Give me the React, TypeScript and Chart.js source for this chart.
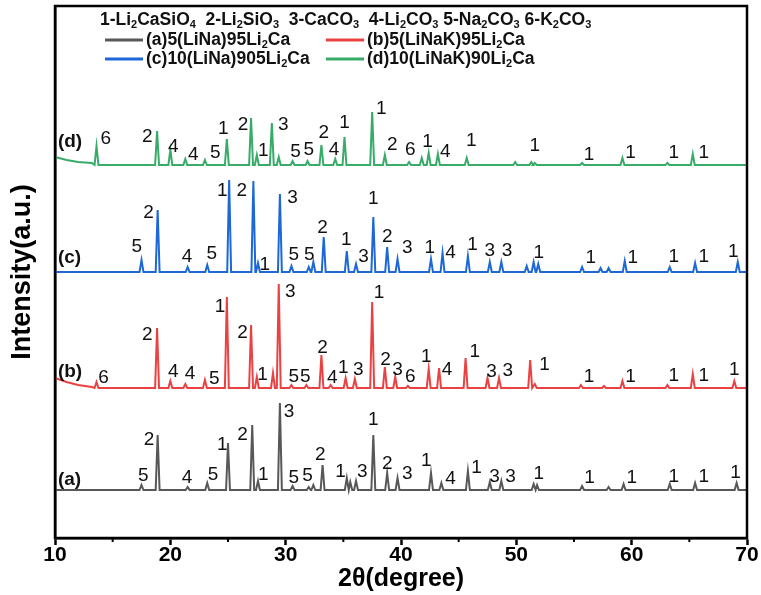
import { useEffect, useRef } from 'react';
import { Chart, registerables } from 'chart.js';

Chart.register(...registerables);

// ---- axis ----
const X_MIN = 10;
const X_MAX = 70;
const X_STEP = 10;
const X_MINOR = [15, 25, 35, 45, 55, 65];
const Y_MIN = 0;
const Y_MAX = 532;

// ---- phase key ("_" marks a subscript character) ----
const phaseKey = '1-Li_2CaSiO_4  2-Li_2SiO_3  3-CaCO_3  4-Li_2CO_3 5-Na_2CO_3 6-K_2CO_3';

const seriesNames = ['(a)5(LiNa)95Li_2Ca', '(b)5(LiNaK)95Li_2Ca', '(c)10(LiNa)905Li_2Ca', '(d)10(LiNaK)90Li_2Ca'];
const seriesTags = ['(a)', '(b)', '(c)', '(d)'];
const seriesColors = ['#585858', '#ea4242', '#1d68d6', '#39ab69'];
const tagY = [58, 166, 280, 396];

// ---- (a) 5(LiNa)95Li2Ca ----
const aBase = 48;
const aLead: number[][] = [];
const aPeakPos = [17.5, 18.9, 21.5, 23.2, 25.0, 27.1, 27.6, 29.5, 30.6, 32.0, 32.4, 33.2, 35.3, 35.6, 36.1, 37.6, 38.8, 39.7, 42.6, 43.5, 45.8, 47.7, 48.7, 51.5, 51.8, 55.7, 58.0, 59.3, 63.3, 65.5, 69.1];
const aPeakTop = [53, 103, 51, 55, 95, 113, 57, 135, 52, 51, 53, 73, 60, 56, 57, 103, 65, 60, 65, 55, 67, 56, 57, 54, 53, 52, 51, 54, 54, 55, 55];
const aLabelText = ['5', '2', '4', '5', '1', '2', '1', '3', '5', '5', '2', '1', '3', '1', '2', '3', '1', '4', '1', '3', '3', '1', '1', '1', '1', '1', '1'];
const aLabelX = [17.65, 18.15, 21.45, 23.7, 24.5, 26.25, 28.05, 30.3, 30.7, 31.9, 33.0, 34.75, 36.65, 37.6, 38.8, 40.55, 42.2, 44.3, 46.55, 48.1, 49.5, 51.95, 56.35, 60.0, 63.65, 66.25, 69.0];
const aLabelY = [62, 98, 60, 63, 93, 103, 63, 126, 60, 62, 83, 66, 66, 118, 74, 64, 77, 59, 70, 61, 61, 64, 60, 60, 61, 61, 65];

// ---- (b) 5(LiNaK)95Li2Ca ----
const bBase = 150;
const bLead = [[10, 160], [11, 156], [12, 153], [13.2, 151]];
const bPeakPos = [13.6, 18.85, 20.0, 21.3, 23.0, 24.9, 27.0, 27.5, 28.9, 29.4, 30.5, 31.8, 33.1, 33.9, 35.2, 36.0, 37.5, 38.6, 39.5, 40.6, 42.4, 43.3, 45.6, 47.5, 48.5, 51.2, 51.6, 55.6, 57.6, 59.2, 63.1, 65.3, 68.9];
const bPeakTop = [156, 210, 157, 154, 158, 241, 213, 161, 165, 254, 153, 153, 183, 153, 160, 159, 236, 171, 161, 152, 169, 170, 180, 160, 160, 178, 154, 153, 152, 157, 153, 164, 157];
const bLabelText = ['6', '2', '4', '4', '5', '1', '2', '1', '3', '5', '5', '2', '4', '1', '3', '1', '2', '3', '6', '1', '4', '1', '3', '3', '1', '1', '1', '1', '1', '1'];
const bLabelX = [14.2, 18.0, 20.25, 21.7, 23.8, 24.3, 26.25, 28.0, 30.4, 30.7, 31.7, 33.2, 34.05, 35.0, 36.3, 38.1, 38.65, 39.7, 40.8, 42.2, 44.0, 46.4, 47.85, 49.25, 52.45, 56.3, 59.9, 63.65, 66.25, 68.9];
const bLabelY = [160, 203, 166, 164, 159, 231, 205, 163, 246, 161, 161, 190, 160, 170, 168, 245, 178, 168, 161, 181, 168, 186, 166, 167, 173, 161, 161, 162, 162, 168];

// ---- (c) 10(LiNa)905Li2Ca ----
const cBase = 266;
const cLead: number[][] = [];
const cPeakPos = [17.5, 18.9, 21.5, 23.2, 25.1, 27.2, 27.6, 29.5, 30.5, 32.0, 32.4, 33.3, 35.3, 36.1, 37.6, 38.8, 39.7, 42.6, 43.6, 45.8, 47.7, 48.7, 50.9, 51.5, 51.9, 55.7, 57.3, 58.0, 59.4, 63.3, 65.5, 69.2];
const cPeakTop = [278, 328, 271, 273, 358, 357, 275, 344, 272, 271, 276, 301, 287, 274, 321, 291, 279, 279, 285, 282, 276, 276, 272, 276, 274, 271, 270, 270, 277, 271, 275, 276];
const cLabelText = ['5', '2', '4', '5', '1', '2', '1', '3', '5', '5', '2', '1', '3', '1', '2', '3', '1', '4', '1', '3', '3', '1', '1', '1', '1', '1', '1'];
const cLabelX = [17.1, 18.1, 21.45, 23.6, 24.5, 26.2, 28.2, 30.6, 30.7, 32.05, 33.2, 35.25, 36.75, 37.6, 38.8, 40.55, 42.5, 44.3, 46.2, 47.7, 49.2, 51.95, 56.45, 60.1, 63.65, 66.25, 68.8];
const cLabelY = [291, 325, 281, 284, 347, 347, 273, 340, 283, 283, 310, 298, 281, 339, 301, 290, 290, 285, 293, 287, 287, 285, 280, 280, 281, 281, 286];

// ---- (d) 10(LiNaK)90Li2Ca ----
const dBase = 373;
const dLead = [[10, 381], [11, 378], [12, 376], [13.2, 375]];
const dPeakPos = [13.6, 18.85, 20.0, 21.3, 23.0, 24.9, 27.0, 27.5, 28.8, 29.4, 30.6, 31.9, 33.1, 34.3, 35.1, 37.5, 38.6, 40.7, 41.8, 42.4, 43.2, 45.7, 49.9, 51.3, 51.6, 55.7, 59.2, 63.1, 65.3];
const dPeakTop = [392, 407, 388, 379, 378, 399, 420, 383, 415, 381, 377, 377, 393, 379, 401, 426, 383, 376, 380, 385, 384, 380, 376, 376, 375, 375, 380, 375, 384];
const dLabelText = ['6', '2', '4', '4', '5', '1', '2', '1', '3', '5', '5', '2', '4', '1', '1', '2', '6', '1', '4', '1', '1', '1', '1', '1', '1'];
const dLabelX = [14.4, 18.0, 20.25, 22.0, 23.9, 24.6, 26.3, 28.05, 29.8, 30.85, 32.0, 33.3, 34.2, 35.1, 38.3, 39.25, 40.8, 42.3, 43.85, 46.1, 51.6, 56.3, 59.9, 63.65, 66.25];
const dLabelY = [399, 401, 391, 383, 385, 409, 413, 387, 413, 386, 388, 405, 388, 415, 429, 393, 388, 396, 386, 397, 392, 383, 385, 385, 385];

const PEAK_HALF_WIDTH = 0.17;

const FONT_SANS = '"Liberation Sans", Arial, sans-serif';

// Assemble a stick-like diffraction profile from baseline and peak lists.
function buildProfile(base: number, lead: number[][], pos: number[], top: number[]) {
  const pts: { x: number; y: number }[] = lead.map(([x, y]) => ({ x, y }));
  if (!lead.length) pts.push({ x: X_MIN, y: base });
  pos.forEach((p, i) => {
    pts.push({ x: p - PEAK_HALF_WIDTH, y: base });
    pts.push({ x: p, y: top[i] });
    pts.push({ x: p + PEAK_HALF_WIDTH, y: base });
  });
  pts.push({ x: X_MAX, y: base });
  return pts;
}

const profiles = [
  buildProfile(aBase, aLead, aPeakPos, aPeakTop),
  buildProfile(bBase, bLead, bPeakPos, bPeakTop),
  buildProfile(cBase, cLead, cPeakPos, cPeakTop),
  buildProfile(dBase, dLead, dPeakPos, dPeakTop),
];

const peakLabels = [
  { text: aLabelText, x: aLabelX, y: aLabelY },
  { text: bLabelText, x: bLabelX, y: bLabelY },
  { text: cLabelText, x: cLabelX, y: cLabelY },
  { text: dLabelText, x: dLabelX, y: dLabelY },
];

// Draws text where "_" turns the following character into a subscript.
function drawRich(ctx: CanvasRenderingContext2D, text: string, x: number, y: number, size: number, weight: string, family: string) {
  let cx = x;
  const main = `${weight} ${size}px ${family}`;
  const sub = `${weight} ${Math.round(size * 0.62)}px ${family}`;
  for (let i = 0; i < text.length; i++) {
    let ch = text[i];
    let isSub = false;
    if (ch === '_' && i + 1 < text.length) {
      isSub = true;
      ch = text[++i];
    }
    ctx.font = isSub ? sub : main;
    ctx.fillText(ch, cx, isSub ? y + size * 0.3 : y);
    cx += ctx.measureText(ch).width;
  }
}

const decorPlugin = {
  id: 'xrdDecor',
  afterDatasetsDraw(chart: any) {
    const { ctx, chartArea, scales } = chart;
    const xs = scales.x;
    const ys = scales.y;
    ctx.save();

    // frame
    ctx.strokeStyle = '#000';
    ctx.lineWidth = 2.5;
    ctx.strokeRect(chartArea.left, chartArea.top, chartArea.right - chartArea.left, chartArea.bottom - chartArea.top);

    // minor ticks
    ctx.lineWidth = 2;
    X_MINOR.forEach((v) => {
      const px = xs.getPixelForValue(v);
      ctx.beginPath();
      ctx.moveTo(px, chartArea.bottom);
      ctx.lineTo(px, chartArea.bottom + 4);
      ctx.stroke();
    });

    // peak phase numbers
    ctx.fillStyle = '#111';
    ctx.textAlign = 'center';
    ctx.textBaseline = 'middle';
    ctx.font = `19px ${FONT_SANS}`;
    peakLabels.forEach((set) => {
      set.text.forEach((t, i) => {
        ctx.fillText(t, xs.getPixelForValue(set.x[i]), ys.getPixelForValue(set.y[i]));
      });
    });

    // pattern tags
    ctx.textAlign = 'left';
    ctx.font = `bold 19px ${FONT_SANS}`;
    seriesTags.forEach((t, i) => {
      ctx.fillText(t, xs.getPixelForValue(10.25), ys.getPixelForValue(tagY[i]));
    });

    // key
    const left = chartArea.left;
    const top = chartArea.top;
    drawRich(ctx, phaseKey, left + 45, top + 14, 17.5, 'bold', FONT_SANS);
    const rows = [top + 34, top + 53];
    const cols = [left + 50, left + 271];
    seriesNames.forEach((name, i) => {
      const r = rows[Math.floor(i / 2)];
      const c = cols[i % 2];
      ctx.strokeStyle = seriesColors[i];
      ctx.lineWidth = 3;
      ctx.beginPath();
      ctx.moveTo(c, r);
      ctx.lineTo(c + 38, r);
      ctx.stroke();
      ctx.fillStyle = '#111';
      drawRich(ctx, name, c + 41, r, 17.5, 'bold', FONT_SANS);
    });

    ctx.restore();
  },
};

export default function App() {
  const ref = useRef<HTMLCanvasElement | null>(null);

  useEffect(() => {
    if (!ref.current) return;
    const chart = new Chart(ref.current, {
      type: 'line',
      data: {
        datasets: profiles.map((pts, i) => ({
          label: seriesNames[i],
          data: pts,
          borderColor: seriesColors[i],
          backgroundColor: seriesColors[i],
          borderWidth: 2,
          pointRadius: 0,
          tension: 0,
          fill: false,
        })),
      },
      options: {
        animation: false,
        responsive: false,
        maintainAspectRatio: false,
        layout: { padding: { top: 6, right: 14, bottom: 0, left: 0 } },
        plugins: { legend: { display: false }, tooltip: { enabled: false } },
        scales: {
          x: {
            type: 'linear',
            min: X_MIN,
            max: X_MAX,
            ticks: {
              stepSize: X_STEP,
              color: '#000',
              padding: -2,
              maxRotation: 0,
              autoSkip: false,
              font: { family: FONT_SANS, weight: 'bold', size: 21 },
            },
            grid: { display: true, drawOnChartArea: false, drawTicks: true, tickLength: 7, tickWidth: 2.5, tickColor: '#000' },
            border: { display: true, color: '#000', width: 2.5 },
            title: {
              display: true,
              text: '2θ(degree)',
              color: '#000',
              font: { family: FONT_SANS, weight: 'bold', size: 25 },
              padding: { top: 0, bottom: 1 },
            },
            afterFit: (s: any) => {
              s.height = 57;
            },
          },
          y: {
            type: 'linear',
            min: Y_MIN,
            max: Y_MAX,
            ticks: { display: false },
            grid: { display: false, drawTicks: false },
            border: { display: true, color: '#000', width: 2.5 },
            title: {
              display: true,
              text: 'Intensity(a.u.)',
              color: '#000',
              font: { family: FONT_SANS, weight: 'bold', size: 27 },
              padding: { top: 6, bottom: 0 },
            },
            afterFit: (s: any) => {
              s.width = 55;
            },
          },
        },
      },
      plugins: [decorPlugin],
    });
    return () => chart.destroy();
  }, []);

  return (
    <div style={{ position: 'absolute', left: 0, top: 0, width: 761, height: 595, background: '#fff' }}>
      <canvas ref={ref} width={761} height={595} style={{ display: 'block' }} />
    </div>
  );
}
